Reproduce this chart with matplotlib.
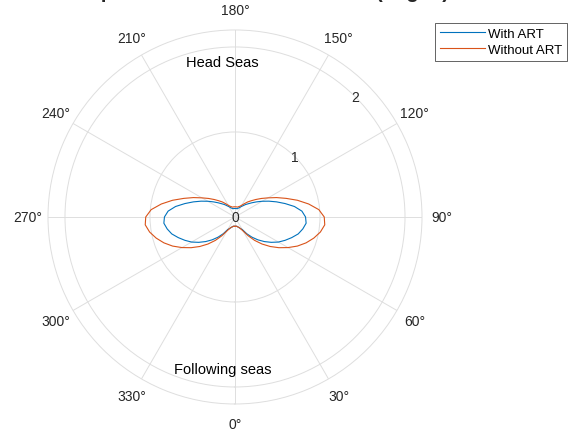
import numpy as np
import matplotlib
matplotlib.use("Agg")
import matplotlib.pyplot as plt

plt.rcParams["font.family"] = ["Liberation Sans", "DejaVu Sans"]

# Heading angle (deg), 0 = following seas, 180 = head seas
heading = np.arange(0, 361, 5)

# Roll response amplitude (deg/m) at each heading
with_art = [
    0.11, 0.11, 0.11, 0.12, 0.13, 0.15, 0.17, 0.24, 0.31, 0.38, 0.45, 0.52,
    0.59, 0.65, 0.71, 0.77, 0.81, 0.84, 0.83, 0.79, 0.71, 0.61, 0.52, 0.44,
    0.37, 0.31, 0.26, 0.22, 0.19, 0.16, 0.14, 0.12, 0.11, 0.10, 0.10, 0.10,
    0.10,
    0.10, 0.10, 0.10, 0.11, 0.12, 0.14, 0.16, 0.19, 0.22, 0.26, 0.31, 0.37,
    0.44, 0.52, 0.61, 0.71, 0.79, 0.83, 0.84, 0.81, 0.77, 0.71, 0.65, 0.59,
    0.52, 0.45, 0.38, 0.31, 0.24, 0.17, 0.15, 0.13, 0.12, 0.11, 0.11, 0.11,
]
without_art = [
    0.11, 0.11, 0.11, 0.12, 0.13, 0.15, 0.19, 0.27, 0.36, 0.45, 0.54, 0.63,
    0.72, 0.81, 0.89, 0.96, 1.02, 1.06, 1.05, 0.99, 0.88, 0.76, 0.64, 0.54,
    0.45, 0.38, 0.32, 0.27, 0.23, 0.19, 0.16, 0.14, 0.13, 0.12, 0.12, 0.12,
    0.12,
    0.12, 0.12, 0.12, 0.13, 0.14, 0.16, 0.19, 0.23, 0.27, 0.32, 0.38, 0.45,
    0.54, 0.64, 0.76, 0.88, 0.99, 1.05, 1.06, 1.02, 0.96, 0.89, 0.81, 0.72,
    0.63, 0.54, 0.45, 0.36, 0.27, 0.19, 0.15, 0.13, 0.12, 0.11, 0.11, 0.11,
]
series_labels = ["With ART", "Without ART"]

theta_ticks = list(range(0, 360, 30))
theta_labels = [f"{t}°" for t in theta_ticks]
r_ticks = [0, 1, 2]
r_labels = ["0", "1", "2"]
r_max = 2.2

grid_color = "#dedede"
text_color = "#262626"

fig = plt.figure(figsize=(5.74, 4.35), dpi=100)
ax = fig.add_axes([0.0836, 0.069, 0.6516, 0.8598], projection="polar")
ax.set_theta_zero_location("S")
ax.set_theta_direction(1)

th = np.deg2rad(heading)
ax.plot(th, with_art, color="#0072BD", lw=0.8, label=series_labels[0])
ax.plot(th, without_art, color="#D95319", lw=0.8, label=series_labels[1])

ax.set_rlim(0, r_max)
ax.set_rticks(r_ticks)
ax.set_yticklabels([])
ax.set_thetagrids(theta_ticks, theta_labels)
ax.tick_params(axis="x", pad=4, labelsize=10, colors=text_color)
ax.grid(True, color=grid_color, lw=0.7)
ax.spines["polar"].set_color(grid_color)
ax.spines["polar"].set_linewidth(0.7)

# radial tick labels along the 135° direction
for r, lab in zip(r_ticks, r_labels):
    ax.text(np.deg2rad(135), r, lab, ha="center", va="center",
            fontsize=10, color=text_color)

ax.text(np.deg2rad(184.6), 1.83, "Head Seas", ha="center", va="center",
        fontsize=10.5, color="black")
ax.text(np.deg2rad(355.4), 1.80, "Following seas", ha="center", va="center",
        fontsize=10.5, color="black")

leg = fig.legend(loc="upper right", bbox_to_anchor=(567 / 574, 1 - 24 / 435),
                 fontsize=9.5, frameon=True, fancybox=False,
                 edgecolor=text_color, framealpha=1, borderpad=0.35,
                 handlelength=3.4, handletextpad=0.25, labelspacing=0.3,
                 borderaxespad=0)
leg.get_frame().set_linewidth(0.5)

fig.text(27 / 574, 1 + 2.5 / 435, "Roll response with and without ART (deg/m)",
         fontsize=14.5, fontweight="bold", ha="left", va="baseline",
         color=text_color)

fig.savefig("out.png", dpi=100)
